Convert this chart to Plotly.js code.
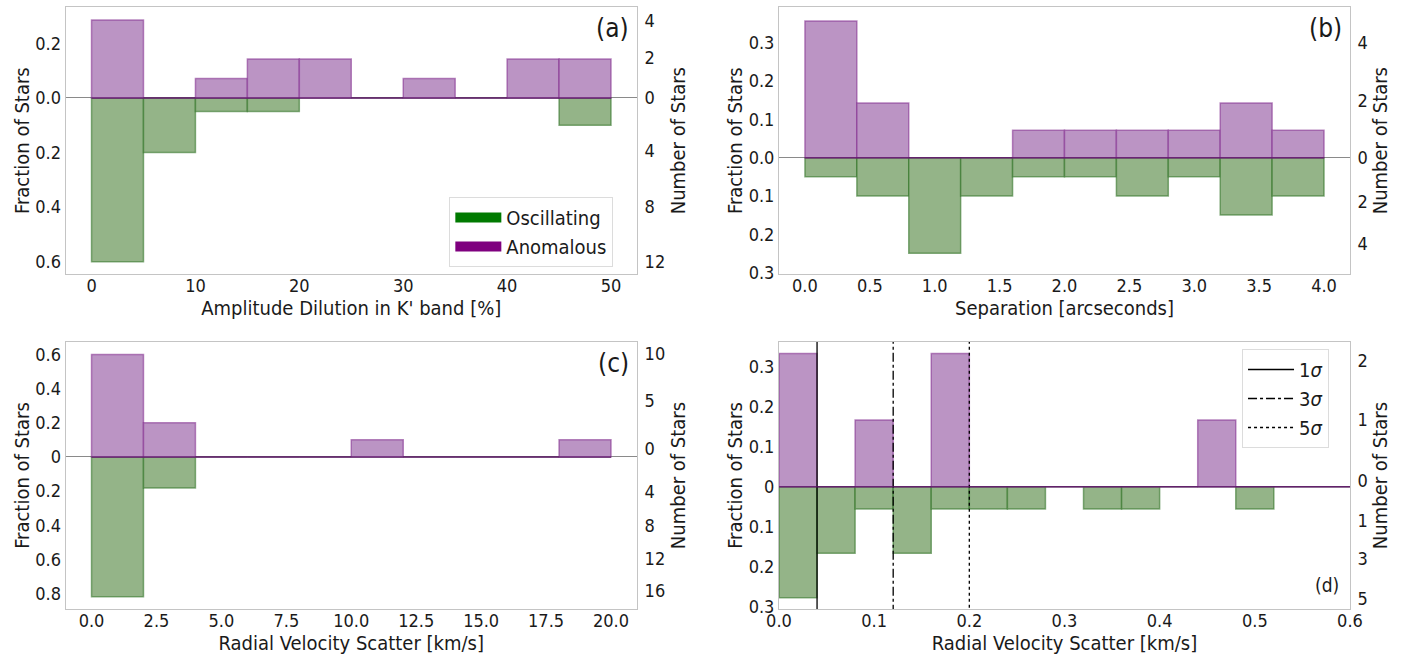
<!DOCTYPE html>
<html>
<head>
<meta charset="utf-8">
<script src="https://cdn.plot.ly/plotly-3.0.1.min.js"></script>
<style>html,body{margin:0;padding:0;background:#fff;}#chart{width:1413px;height:656px;}</style>
</head>
<body>
<div id="chart"></div>
<script>
// ---------- DATA ----------
// Panel (a): Amplitude dilution in K' band [%]
const aBinStart = 0, aBinWidth = 5;
const aAnomalous   = [0.2857, 0, 0.0714, 0.1429, 0.1429, 0, 0.0714, 0, 0.1429, 0.1429];
const aOscillating = [0.6, 0.2, 0.05, 0.05, 0, 0, 0, 0, 0, 0.1];
const aLeftTickVals  = [0.2, 0, -0.2, -0.4, -0.6];
const aLeftTickText  = ['0.2', '0.0', '0.2', '0.4', '0.6'];
const aRightTickVals = [0.284, 0.146, 0, -0.195, -0.398, -0.601];
const aRightTickText = ['4', '2', '0', '4', '8', '12'];
const aXTicks = [0, 10, 20, 30, 40, 50];
const aXTickText = ['0', '10', '20', '30', '40', '50'];

// Panel (b): Separation [arcseconds]
const bBinStart = 0, bBinWidth = 0.4;
const bAnomalous   = [0.3571, 0.1429, 0, 0, 0.0714, 0.0714, 0.0714, 0.0714, 0.1429, 0.0714];
const bOscillating = [0.05, 0.1, 0.25, 0.1, 0.05, 0.05, 0.1, 0.05, 0.15, 0.1];
const bLeftTickVals  = [0.3, 0.2, 0.1, 0, -0.1, -0.2, -0.3];
const bLeftTickText  = ['0.3', '0.2', '0.1', '0.0', '0.1', '0.2', '0.3'];
const bRightTickVals = [0.30, 0.15, 0, -0.115, -0.225];
const bRightTickText = ['4', '2', '0', '2', '4'];
const bXTicks = [0, 0.5, 1, 1.5, 2, 2.5, 3, 3.5, 4];
const bXTickText = ['0.0', '0.5', '1.0', '1.5', '2.0', '2.5', '3.0', '3.5', '4.0'];

// Panel (c): Radial velocity scatter [km/s], wide range
const cBinStart = 0, cBinWidth = 2;
const cAnomalous   = [0.6, 0.2, 0, 0, 0, 0.1, 0, 0, 0, 0.1];
const cOscillating = [0.818, 0.182, 0, 0, 0, 0, 0, 0, 0, 0];
const cLeftTickVals  = [0.6, 0.4, 0.2, 0, -0.2, -0.4, -0.6, -0.8];
const cLeftTickText  = ['0.6', '0.4', '0.2', '0', '0.2', '0.4', '0.6', '0.8'];
const cRightTickVals = [0.605, 0.327, 0.049, -0.205, -0.4, -0.595, -0.78];
const cRightTickText = ['10', '5', '0', '4', '8', '12', '16'];
const cXTicks = [0, 2.5, 5, 7.5, 10, 12.5, 15, 17.5, 20];
const cXTickText = ['0.0', '2.5', '5.0', '7.5', '10.0', '12.5', '15.0', '17.5', '20.0'];

// Panel (d): Radial velocity scatter [km/s], zoomed
const dBinStart = 0, dBinWidth = 0.04;
const dAnomalous   = [0.3333, 0, 0.1667, 0, 0.3333, 0, 0, 0, 0, 0, 0, 0.1667, 0, 0, 0];
const dOscillating = [0.2778, 0.1667, 0.0556, 0.1667, 0.0556, 0.0556, 0.0556, 0, 0.0556, 0.0556, 0, 0, 0.0556, 0, 0];
const dLeftTickVals  = [0.3, 0.2, 0.1, 0, -0.1, -0.2, -0.3];
const dLeftTickText  = ['0.3', '0.2', '0.1', '0', '0.1', '0.2', '0.3'];
const dRightTickVals = [0.315, 0.167, 0.015, -0.086, -0.181, -0.281];
const dRightTickText = ['2', '1', '0', '1', '3', '5'];
const dXTicks = [0, 0.1, 0.2, 0.3, 0.4, 0.5, 0.6];
const dXTickText = ['0.0', '0.1', '0.2', '0.3', '0.4', '0.5', '0.6'];
const sigmaValues = [0.04, 0.12, 0.2];
const sigmaLabels = ['1<i>σ</i>', '3<i>σ</i>', '5<i>σ</i>'];

const seriesNames = ['Oscillating', 'Anomalous'];

// ---------- STYLE ----------
const FONT = '"DejaVu Sans Condensed", "DejaVu Sans", sans-serif';
const TXT = '#1a1a1a';
const PURPLE_FILL = 'rgb(187,148,196)';
const PURPLE_EDGE = 'rgba(128,40,140,0.55)';
const GREEN_FILL = 'rgb(148,180,136)';
const GREEN_EDGE = 'rgba(40,110,30,0.55)';
const FRAME = '#c4c4c4';

const traces = [];
function centers(start, w, n) { const c = []; for (let i = 0; i < n; i++) c.push(start + w * (i + 0.5)); return c; }

function addPanel(idx, start, w, anom, osc) {
  const xa = idx === 1 ? 'x' : 'x' + idx;
  const ya = idx === 1 ? 'y' : 'y' + idx;
  const yr = 'y' + (idx + 4);
  const xc = centers(start, w, anom.length);
  traces.push({
    type: 'bar', x: xc, y: osc.map(v => -v), width: w, xaxis: xa, yaxis: ya,
    marker: {color: GREEN_FILL, line: {color: GREEN_EDGE, width: 1.5}},
    showlegend: false, hoverinfo: 'skip'
  });
  traces.push({
    type: 'bar', x: xc, y: anom, width: w, xaxis: xa, yaxis: ya,
    marker: {color: PURPLE_FILL, line: {color: PURPLE_EDGE, width: 1.5}},
    showlegend: false, hoverinfo: 'skip'
  });
  // histogram outline along zero across the full bin range
  traces.push({
    type: 'scatter', mode: 'lines', x: [start, start + w * anom.length], y: [0, 0],
    xaxis: xa, yaxis: yr, line: {color: 'rgba(95,20,105,0.75)', width: 1.5},
    showlegend: false, hoverinfo: 'skip'
  });
}
addPanel(1, aBinStart, aBinWidth, aAnomalous, aOscillating);
addPanel(2, bBinStart, bBinWidth, bAnomalous, bOscillating);
addPanel(3, cBinStart, cBinWidth, cAnomalous, cOscillating);
addPanel(4, dBinStart, dBinWidth, dAnomalous, dOscillating);

// legend entries for panel (a)
traces.push({type: 'scatter', mode: 'lines', x: [null], y: [null], xaxis: 'x', yaxis: 'y',
  name: seriesNames[0], line: {color: '#007a00', width: 14}, legend: 'legend', showlegend: true});
traces.push({type: 'scatter', mode: 'lines', x: [null], y: [null], xaxis: 'x', yaxis: 'y',
  name: seriesNames[1], line: {color: '#7f007f', width: 14}, legend: 'legend', showlegend: true});

// sigma lines in panel (d)
const dashes = ['solid', 'dashdot', 'dot'];
sigmaValues.forEach((s, i) => {
  traces.push({type: 'scatter', mode: 'lines', x: [s, s], y: [-5, 5], xaxis: 'x4', yaxis: 'y4',
    name: sigmaLabels[i], line: {color: '#000', width: 1.3, dash: dashes[i]},
    legend: 'legend2', showlegend: true, hoverinfo: 'skip'});
});

// ---------- LAYOUT ----------
const XL = [0.0464, 0.4508], XR = [0.5513, 0.9554];
const YT = [0.5823, 0.9889], YB = [0.0716, 0.4787];
const tickFont = {family: FONT, size: 18, color: TXT};
const titleFont = {family: FONT, size: 20, color: TXT};

function xAxis(dom, anchor, range, tv, tt, title) {
  return {domain: dom, anchor: anchor, range: range, tickvals: tv, ticktext: tt,
    showgrid: false, zeroline: false, showline: true, mirror: true, linecolor: FRAME, linewidth: 1,
    ticks: '', tickfont: tickFont, ticklabelstandoff: -5,
    title: {text: title, font: titleFont, standoff: 0}};
}
function yLeft(dom, anchor, range, tv, tt) {
  return {domain: dom, anchor: anchor, range: range, tickvals: tv, ticktext: tt,
    showgrid: false, zeroline: true, zerolinecolor: '#8a8a8a', zerolinewidth: 1,
    showline: true, mirror: true, linecolor: FRAME, linewidth: 1,
    ticks: '', tickfont: tickFont,
    title: {text: 'Fraction of Stars', font: titleFont, standoff: 0}};
}
function yRight(over, anchor, range, tv, tt) {
  return {overlaying: over, side: 'right', anchor: anchor, range: range, tickvals: tv, ticktext: tt,
    showgrid: false, zeroline: false, showline: false,
    ticks: 'outside', ticklen: 3, tickcolor: 'rgba(0,0,0,0)', tickfont: tickFont,
    title: {text: 'Number of Stars', font: titleFont, standoff: 6}};
}

const aR = [-0.645, 0.332], bR = [-0.304, 0.393], cR = [-0.89, 0.673], dR = [-0.306, 0.362];

const layout = {
  width: 1413, height: 656,
  margin: {l: 0, r: 0, t: 0, b: 0},
  paper_bgcolor: '#fff', plot_bgcolor: '#fff',
  barmode: 'overlay', bargap: 0,
  font: {family: FONT, color: TXT},
  xaxis:  xAxis(XL, 'y',  [-2.5, 52.5], aXTicks, aXTickText, "Amplitude Dilution in K' band [%]"),
  xaxis2: xAxis(XR, 'y2', [-0.2, 4.2], bXTicks, bXTickText, 'Separation [arcseconds]'),
  xaxis3: xAxis(XL, 'y3', [-1, 21], cXTicks, cXTickText, 'Radial Velocity Scatter [km/s]'),
  xaxis4: xAxis(XR, 'y4', [0, 0.6], dXTicks, dXTickText, 'Radial Velocity Scatter [km/s]'),
  yaxis:  yLeft(YT, 'x',  aR, aLeftTickVals, aLeftTickText),
  yaxis2: yLeft(YT, 'x2', bR, bLeftTickVals, bLeftTickText),
  yaxis3: yLeft(YB, 'x3', cR, cLeftTickVals, cLeftTickText),
  yaxis4: yLeft(YB, 'x4', dR, dLeftTickVals, dLeftTickText),
  yaxis5: yRight('y',  'x',  aR, aRightTickVals, aRightTickText),
  yaxis6: yRight('y2', 'x2', bR, bRightTickVals, bRightTickText),
  yaxis7: yRight('y3', 'x3', cR, cRightTickVals, cRightTickText),
  yaxis8: yRight('y4', 'x4', dR, dRightTickVals, dRightTickText),
  legend: {x: 0.318, y: 0.6997, xanchor: 'left', yanchor: 'top',
    bgcolor: 'rgba(255,255,255,0.85)', bordercolor: '#dcdcdc', borderwidth: 1,
    font: {family: FONT, size: 20, color: TXT}, itemwidth: 46},
  legend2: {x: 0.879, y: 0.468, xanchor: 'left', yanchor: 'top',
    bgcolor: 'rgba(255,255,255,0.85)', bordercolor: '#dcdcdc', borderwidth: 1,
    font: {family: FONT, size: 20, color: TXT}, itemwidth: 46},
  annotations: [
    {text: '(a)', xref: 'x domain', yref: 'y domain', x: 0.99, y: 0.985, xanchor: 'right', yanchor: 'top', showarrow: false, font: {family: FONT, size: 26, color: TXT}},
    {text: '(b)', xref: 'x2 domain', yref: 'y2 domain', x: 0.99, y: 0.985, xanchor: 'right', yanchor: 'top', showarrow: false, font: {family: FONT, size: 26, color: TXT}},
    {text: '(c)', xref: 'x3 domain', yref: 'y3 domain', x: 0.99, y: 0.985, xanchor: 'right', yanchor: 'top', showarrow: false, font: {family: FONT, size: 26, color: TXT}},
    {text: '(d)', xref: 'x4 domain', yref: 'y4 domain', x: 0.985, y: 0.04, xanchor: 'right', yanchor: 'bottom', showarrow: false, font: {family: FONT, size: 19, color: TXT}}
  ]
};

Plotly.newPlot('chart', traces, layout, {displayModeBar: false, staticPlot: true});
</script>
</body>
</html>
